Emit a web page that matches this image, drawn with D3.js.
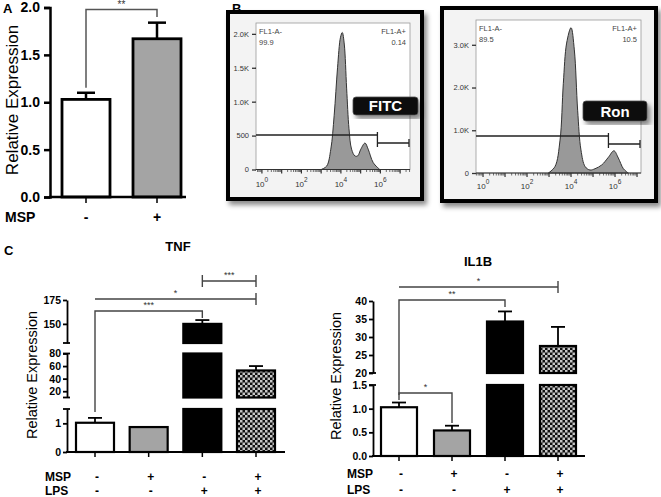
<!DOCTYPE html>
<html><head><meta charset="utf-8">
<script src="https://cdn.jsdelivr.net/npm/d3@7"></script>
<style>
html,body{margin:0;padding:0;background:#fff;}
svg{display:block;font-family:"Liberation Sans",Arial,sans-serif;}
</style></head>
<body>
<svg id="chart" width="661" height="497"></svg>
<script>
// ---------------- DATA ----------------
// Panel A
const aGroups = ["-", "+"];
const aValues = [1.03, 1.67];
const aErrors = [0.07, 0.17];
const aTicks = [0, 0.5, 1.0, 1.5, 2.0];

// Panel B (flow cytometry histograms, x = log10 FL1-A, y = count in thousands)
const fitcLog = [3.0, 3.28, 3.49, 3.66, 3.83, 3.98, 4.07, 4.17, 4.29, 4.41, 4.54, 4.71, 4.85, 5.01, 5.22, 5.38, 5.64, 5.97];
const fitcCount = [0, 0.05, 0.3, 0.8, 1.5, 1.95, 2.02, 1.85, 1.2, 0.6, 0.3, 0.2, 0.2, 0.3, 0.39, 0.3, 0.1, 0];
const fitcYTicks = [0, 0.5, 1.0, 1.5, 2.0];
const fitcYLabels = ["0", "500", "1.0K", "1.5K", "2.0K"];
const fitcStats = ["99.9", "0.14"];
const ronLog = [2.97, 3.27, 3.5, 3.65, 3.8, 4.0, 4.15, 4.3, 4.45, 4.64, 4.86, 5.09, 5.4, 5.7, 5.95, 6.15, 6.38, 6.6];
const ronCount = [0, 0.15, 0.77, 2.1, 3.04, 3.4, 2.88, 1.47, 0.54, 0.15, 0.07, 0.1, 0.19, 0.37, 0.52, 0.35, 0.1, 0];
const ronYTicks = [0, 1, 2, 3];
const ronYLabels = ["0", "1.0K", "2.0K", "3.0K"];
const ronStats = ["89.5", "10.5"];
const flowXTicks = [0, 2, 4, 6];

// Panel C
const mspRow = ["-", "+", "-", "+"];
const lpsRow = ["-", "-", "+", "+"];
const tnfValues = [1.02, 0.87, 150, 53];
const tnfErrors = [0.17, 0, 4, 7];
const il1bValues = [1.03, 0.54, 34.3, 27.5];
const il1bErrors = [0.1, 0.1, 2.8, 5.3];
const tnfTicks = [[0, 1], [20, 40, 60, 80], [150, 175]];
const il1bTicks = [[0.0, 0.5, 1.0, 1.5], [20, 25, 30, 35, 40]];

// ---------------- DRAWING ----------------
const svg = d3.select("#chart");
const FONT = '"Liberation Sans",Arial,sans-serif';
const defs = svg.append("defs");
const pat = defs.append("pattern").attr("id", "checker").attr("patternUnits", "userSpaceOnUse")
  .attr("width", 5).attr("height", 5);
pat.append("rect").attr("width", 5).attr("height", 5).attr("fill", "#111");
pat.append("rect").attr("x", 0).attr("y", 0).attr("width", 2.5).attr("height", 2.5).attr("fill", "#c8c8c8");
pat.append("rect").attr("x", 2.5).attr("y", 2.5).attr("width", 2.5).attr("height", 2.5).attr("fill", "#c8c8c8");
const sh = defs.append("filter").attr("id", "shadow").attr("x", "-10%").attr("y", "-10%").attr("width", "130%").attr("height", "130%");
sh.append("feDropShadow").attr("dx", 3).attr("dy", 4).attr("stdDeviation", 2.5).attr("flood-color", "#000").attr("flood-opacity", 0.45);

const barFills = ["#ffffff", "#a4a4a4", "#000000", "url(#checker)"];

// ===== Panel A =====
(function () {
  const g = svg.append("g");
  const y = d3.scaleLinear().domain([0, 2]).range([197, 7.5]);
  const x = d3.scalePoint().domain(aGroups).range([86, 157]);
  const bw = 48;
  const fills = ["#ffffff", "#a4a4a4"];
  g.append("text").attr("x", 3).attr("y", 13).attr("font-weight", "bold").attr("font-size", 13).text("A");
  const yAxis = g.append("g").attr("transform", "translate(50,0)")
    .call(d3.axisLeft(y).tickValues(aTicks).tickFormat(d3.format(".1f")).tickSizeOuter(0).tickSize(6));
  yAxis.select(".domain").attr("stroke-width", 2.5);
  yAxis.selectAll(".tick line").attr("stroke-width", 2.5);
  yAxis.selectAll("text").attr("font-size", 14).attr("font-weight", "bold").attr("font-family", FONT).attr("fill", "#000").attr("dx", -1);
  g.append("text").attr("transform", "translate(18,100) rotate(-90)").attr("text-anchor", "middle")
    .attr("font-size", 17).text("Relative Expression");
  aGroups.forEach((k, i) => {
    const cx = x(k);
    g.append("line").attr("x1", cx).attr("x2", cx).attr("y1", y(aValues[i])).attr("y2", y(aValues[i] + aErrors[i]))
      .attr("stroke", "#000").attr("stroke-width", 2.5);
    g.append("line").attr("x1", cx - 9).attr("x2", cx + 9).attr("y1", y(aValues[i] + aErrors[i])).attr("y2", y(aValues[i] + aErrors[i]))
      .attr("stroke", "#000").attr("stroke-width", 2.5);
    g.append("rect").attr("x", cx - bw / 2).attr("y", y(aValues[i])).attr("width", bw).attr("height", y(0) - y(aValues[i]))
      .attr("fill", fills[i]).attr("stroke", "#000").attr("stroke-width", 2.8);
  });
  const xAxis = g.append("g").attr("transform", "translate(0,197)");
  xAxis.append("line").attr("x1", 49).attr("x2", 186).attr("stroke", "#000").attr("stroke-width", 2.5);
  aGroups.forEach(k => xAxis.append("line").attr("x1", x(k)).attr("x2", x(k)).attr("y1", 0).attr("y2", 6).attr("stroke", "#000").attr("stroke-width", 1.5));
  g.append("text").attr("x", 5).attr("y", 222).attr("font-size", 14).attr("font-weight", "bold").text("MSP");
  aGroups.forEach(k => g.append("text").attr("x", x(k)).attr("y", 222).attr("text-anchor", "middle").attr("font-size", 14).attr("font-weight", "bold").text(k));
  const x1 = x(aGroups[0]), x2 = x(aGroups[1]);
  g.append("path").attr("d", `M${x1},${y(aValues[0] + aErrors[0]) - 5}V9.5H${x2}V17`).attr("fill", "none").attr("stroke", "#555").attr("stroke-width", 1.5);
  g.append("text").attr("x", (x1 + x2) / 2).attr("y", 8).attr("text-anchor", "middle").attr("font-size", 10).attr("fill", "#333").text("**");
})();

// ===== Panel B =====
function flowPlot(opt) {
  const g = svg.append("g");
  g.append("rect").attr("x", opt.box[0]).attr("y", opt.box[1]).attr("width", opt.box[2] - opt.box[0]).attr("height", opt.box[3] - opt.box[1])
    .attr("fill", "#f3f3f3").attr("stroke", "#000").attr("stroke-width", 4).attr("filter", "url(#shadow)");
  const [l, t, r, b] = opt.plot;
  g.append("rect").attr("x", l).attr("y", t).attr("width", r - l).attr("height", b - t).attr("fill", "#fff").attr("stroke", "#9a9a9a").attr("stroke-width", 0.8);
  const x = d3.scaleLinear().domain(opt.xDomain).range([l, r]);
  const y = d3.scaleLinear().domain([0, opt.yMax]).range([b, t]);
  const pts = opt.logs.map((v, i) => [v, opt.counts[i]]);
  const area = d3.area().x(d => x(d[0])).y0(y(0)).y1(d => y(d[1])).curve(d3.curveCatmullRom.alpha(0.5));
  g.append("path").datum(pts).attr("d", area).attr("fill", "#999").attr("stroke", "#333").attr("stroke-width", 1);
  const ya = g.append("g").attr("transform", `translate(${l},0)`)
    .call(d3.axisLeft(y).tickValues(opt.yTicks).tickFormat((d, i) => opt.yLabels[i]).tickSize(4).tickSizeOuter(0));
  ya.select(".domain").remove();
  ya.selectAll(".tick line").attr("stroke", "#333").attr("stroke-width", 1.3);
  ya.selectAll("text").attr("font-size", 7.5).attr("fill", "#333").attr("font-family", FONT);
  const xa = g.append("g").attr("transform", `translate(0,${b})`);
  xa.append("line").attr("x1", l).attr("x2", r).attr("stroke", "#333").attr("stroke-width", 1);
  const minor = [];
  for (let dcd = -1; dcd <= 8; dcd++) for (let m = 1; m <= 9; m++) {
    const v = dcd + Math.log10(m);
    if (v >= opt.xDomain[0] && v <= opt.xDomain[1]) minor.push({ v, major: m === 1 });
  }
  xa.selectAll(".mt").data(minor).enter().append("line").attr("x1", d => x(d.v)).attr("x2", d => x(d.v))
    .attr("y1", 0).attr("y2", d => d.major ? 4 : 2.5).attr("stroke", "#333").attr("stroke-width", d => d.major ? 1.2 : 0.7);
  flowXTicks.forEach(p => {
    const tx = g.append("text").attr("x", x(p)).attr("y", b + opt.labelDy).attr("text-anchor", "middle").attr("font-size", 8).attr("fill", "#333");
    tx.append("tspan").text("10");
    tx.append("tspan").attr("dy", -5).attr("font-size", 6.5).text(String(p));
  });
  const gx = x(opt.gate);
  g.append("path").attr("d", `M${l},${opt.gateY1}H${gx}M${gx},${opt.gateY1 - 3}V${opt.gateY2 + 4}M${gx},${opt.gateY2}H${r - 1}M${r - 1},${opt.gateY2 - 4}V${opt.gateY2 + 4}`)
    .attr("fill", "none").attr("stroke", "#222").attr("stroke-width", 1.3);
  g.append("text").attr("x", l + 3).attr("y", t + 11).attr("font-size", 7.5).attr("fill", "#444").text("FL1-A-");
  g.append("text").attr("x", l + 3).attr("y", t + 22).attr("font-size", 7.5).attr("fill", "#444").text(opt.stats[0]);
  g.append("text").attr("x", r - 4).attr("y", t + 11).attr("text-anchor", "end").attr("font-size", 7.5).attr("fill", "#444").text("FL1-A+");
  g.append("text").attr("x", r - 4).attr("y", t + 22).attr("text-anchor", "end").attr("font-size", 7.5).attr("fill", "#444").text(opt.stats[1]);
  const [tx0, ty0, tx1, ty1] = opt.tag;
  g.append("rect").attr("x", tx0).attr("y", ty0).attr("width", tx1 - tx0).attr("height", ty1 - ty0).attr("rx", 3)
    .attr("fill", "#0a0a0a").attr("stroke", "#555").attr("stroke-width", 0.8).attr("filter", "url(#shadow)");
  g.append("text").attr("x", (tx0 + tx1) / 2).attr("y", ty1 - 4).attr("text-anchor", "middle").attr("font-size", 15)
    .attr("font-weight", "bold").attr("fill", "#fff").text(opt.name);
}
svg.append("text").attr("x", 232).attr("y", 13).attr("font-weight", "bold").attr("font-size", 13).text("B");
flowPlot({
  box: [228, 12, 422, 199], plot: [256, 23, 410, 169.5], xDomain: [-0.3, 7.5], yMax: 2.16,
  logs: fitcLog, counts: fitcCount, yTicks: fitcYTicks, yLabels: fitcYLabels, stats: fitcStats,
  gate: 5.85, gateY1: 135, gateY2: 143, labelDy: 17, tag: [353, 97, 418, 115], name: "FITC"
});
flowPlot({
  box: [442, 8, 656, 201], plot: [476, 20, 641, 173], xDomain: [-0.32, 7.18], yMax: 3.58,
  logs: ronLog, counts: ronCount, yTicks: ronYTicks, yLabels: ronYLabels, stats: ronStats,
  gate: 5.7, gateY1: 136, gateY2: 144, labelDy: 16, tag: [583, 101, 647, 121], name: "Ron"
});

// ===== Panel C =====
function brokenBars(opt) {
  const g = svg.append("g");
  const segs = opt.segments.map(s => ({ d: s.d, sc: d3.scaleLinear().domain(s.d).range(s.r) }));
  const yOf = v => { for (const s of segs) if (v >= s.d[0] && v <= s.d[1]) return s.sc(v); return null; };
  const x = d3.scalePoint().domain(d3.range(opt.values.length)).range(opt.xRange);
  const bw = opt.bw;
  g.append("text").attr("x", opt.titleX).attr("y", opt.titleY).attr("text-anchor", "middle").attr("font-size", 13).attr("font-weight", "bold").text(opt.title);
  segs.forEach((s, i) => {
    const ax = g.append("g").attr("transform", `translate(${opt.axisX},0)`)
      .call(d3.axisLeft(s.sc).tickValues(opt.ticks[i]).tickFormat(opt.fmt[i]).tickSize(4).tickSizeOuter(0));
    ax.select(".domain").attr("stroke-width", 1.8);
    ax.selectAll(".tick line").attr("stroke-width", 1.8);
    ax.selectAll("text").attr("font-size", 10.5).attr("font-weight", "bold").attr("font-family", FONT).attr("fill", "#000").attr("dx", 1);
    [s.sc.range()[0], s.sc.range()[1]].forEach((py, j) => {
      if (i === 0 && j === 0) return;
      if (i === segs.length - 1 && j === 1) return;
      g.append("line").attr("x1", opt.axisX - 4).attr("x2", opt.axisX + 3).attr("y1", py).attr("y2", py).attr("stroke", "#000").attr("stroke-width", 1.8);
    });
  });
  g.append("text").attr("transform", `translate(${opt.ylabX},${opt.ylabY}) rotate(-90)`).attr("text-anchor", "middle")
    .attr("font-size", 14.5).text("Relative Expression");
  opt.values.forEach((v, i) => {
    const cx = x(i);
    if (opt.errors[i] > 0) {
      const top = v + opt.errors[i];
      g.append("line").attr("x1", cx).attr("x2", cx).attr("y1", yOf(v)).attr("y2", yOf(top)).attr("stroke", "#000").attr("stroke-width", 1.8);
      g.append("line").attr("x1", cx - 7).attr("x2", cx + 7).attr("y1", yOf(top)).attr("y2", yOf(top)).attr("stroke", "#000").attr("stroke-width", 1.8);
    }
    segs.forEach(s => {
      if (v <= s.d[0]) return;
      const hi = Math.min(v, s.d[1]);
      const yt = s.sc(hi), yb = s.sc(s.d[0]);
      g.append("rect").attr("x", cx - bw / 2).attr("y", yt).attr("width", bw).attr("height", yb - yt)
        .attr("fill", barFills[i]).attr("stroke", "#000").attr("stroke-width", 2.2);
    });
  });
  const base = segs[0].sc(0);
  g.append("line").attr("x1", opt.axisX - 1).attr("x2", opt.axisEnd).attr("y1", base).attr("y2", base).attr("stroke", "#000").attr("stroke-width", 1.8);
  opt.values.forEach((v, i) => g.append("line").attr("x1", x(i)).attr("x2", x(i)).attr("y1", base).attr("y2", base + 5).attr("stroke", "#000").attr("stroke-width", 1.5));
  [["MSP", mspRow, opt.rowY[0]], ["LPS", lpsRow, opt.rowY[1]]].forEach(([name, row, yy]) => {
    g.append("text").attr("x", opt.rowLabelX).attr("y", yy).attr("font-size", 12).attr("font-weight", "bold").text(name);
    row.forEach((s, i) => g.append("text").attr("x", x(i) + 2).attr("y", yy).attr("text-anchor", "middle").attr("font-size", 12).attr("font-weight", "bold").text(s));
  });
  opt.sig.forEach(sg => {
    const xa = x(sg.a), xb = x(sg.b);
    let d;
    if (sg.type === "bracket") d = `M${xa},${sg.y0}V${sg.y}H${xb}V${sg.y1}`;
    else if (sg.type === "rightcap") d = `M${xa},${sg.y}H${xb}M${xb},${sg.y - 6}V${sg.y + 6}`;
    else d = `M${xa},${sg.y - 6}V${sg.y + 6}M${xa},${sg.y}H${xb}M${xb},${sg.y - 6}V${sg.y + 6}`;
    g.append("path").attr("d", d).attr("fill", "none").attr("stroke", "#444").attr("stroke-width", 1.4);
    g.append("text").attr("x", (xa + xb) / 2).attr("y", sg.y - 3).attr("text-anchor", "middle").attr("font-size", 9).attr("fill", "#333").text(sg.stars);
  });
}
svg.append("text").attr("x", 4).attr("y", 255).attr("font-weight", "bold").attr("font-size", 13).text("C");
brokenBars({
  title: "TNF", titleX: 178, titleY: 251,
  values: tnfValues, errors: tnfErrors, ticks: tnfTicks, fmt: [d3.format("d"), d3.format("d"), d3.format("d")],
  segments: [{ d: [0, 1.5], r: [452, 409] }, { d: [10, 80], r: [397.5, 353.5] }, { d: [130, 175], r: [343, 300] }],
  axisX: 67, axisEnd: 285, xRange: [95, 256], bw: 38,
  ylabX: 37, ylabY: 375, rowLabelX: 45, rowY: [481, 495],
  sig: [
    { type: "bracket", a: 0, b: 2, y: 311, y0: 412, y1: 318, stars: "***" },
    { type: "rightcap", a: 0, b: 3, y: 299, stars: "*" },
    { type: "caps", a: 2, b: 3, y: 281, stars: "***" }
  ]
});
brokenBars({
  title: "IL1B", titleX: 478, titleY: 266,
  values: il1bValues, errors: il1bErrors, ticks: il1bTicks, fmt: [d3.format(".1f"), d3.format("d")],
  segments: [{ d: [0, 1.5], r: [456, 385] }, { d: [20, 40], r: [373, 301] }],
  axisX: 373, axisEnd: 585, xRange: [399, 558], bw: 36,
  ylabX: 341, ylabY: 376, rowLabelX: 347, rowY: [478, 494],
  sig: [
    { type: "rightcap", a: 0, b: 3, y: 287, stars: "*" },
    { type: "bracket", a: 0, b: 2, y: 300, y0: 395, y1: 307, stars: "**" },
    { type: "bracket", a: 0, b: 1, y: 393, y0: 400, y1: 423, stars: "*" }
  ]
});
</script>
</body></html>
